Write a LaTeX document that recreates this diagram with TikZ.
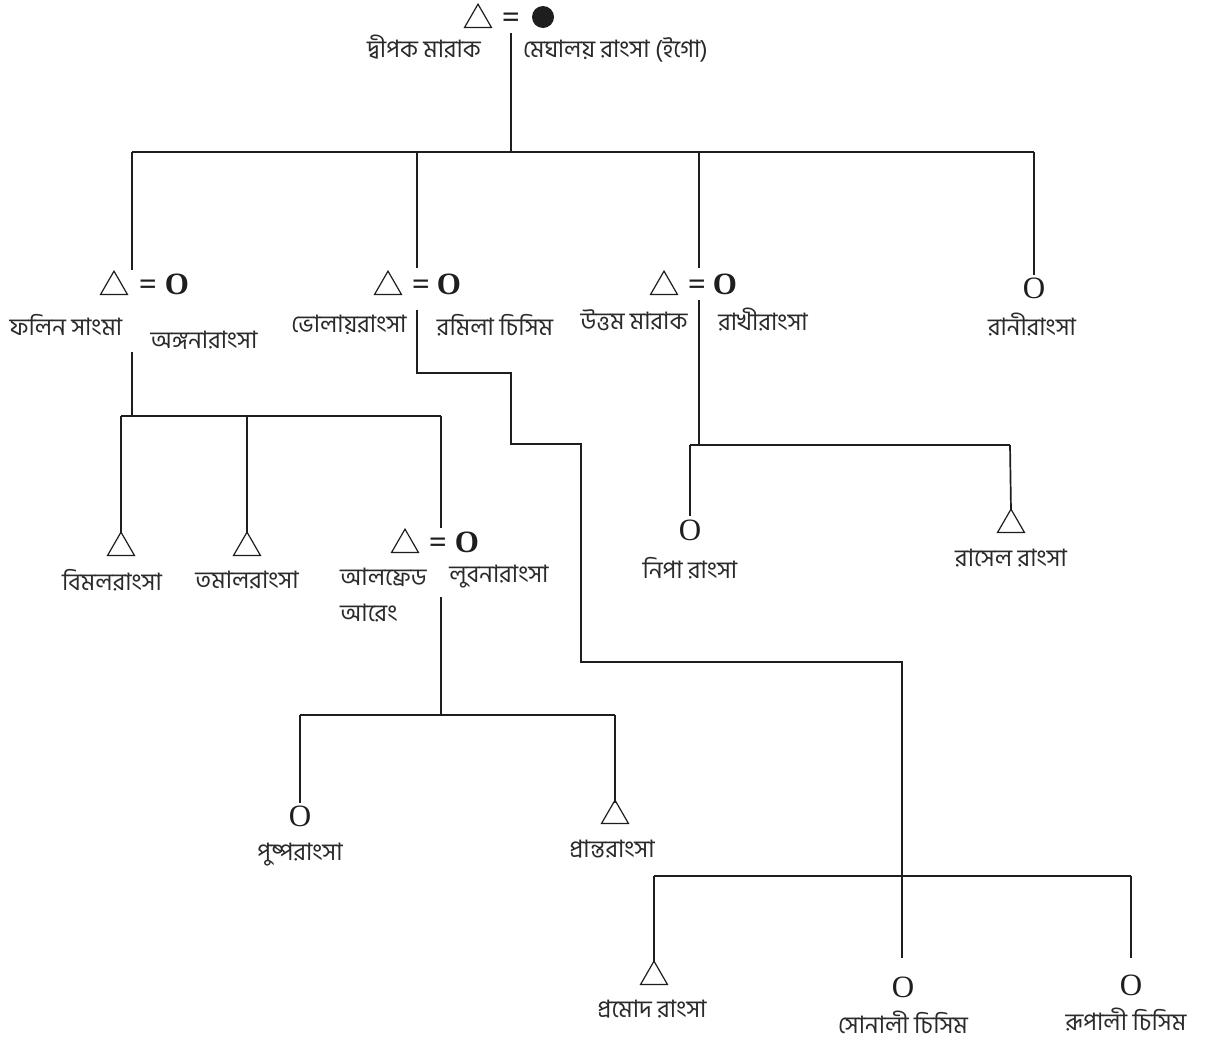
\documentclass[tikz,border=0pt]{standalone}
\usepackage{fontspec}
\newfontfamily\bn[Script=Bengali]{Hind Siliguri}
\newfontfamily\sym{Liberation Serif}
\usetikzlibrary{shapes.geometric}
\definecolor{ink}{HTML}{1E1E1E}
\definecolor{txt}{HTML}{2A2A2A}
\begin{document}
\begin{tikzpicture}[x=1pt,y=-1pt,
  ln/.style={line width=1.7pt, draw=ink},
  lbl/.style={font=\bn\fontsize{24}{26}\selectfont, inner sep=0pt, text=txt},
  male/.style={regular polygon, regular polygon sides=3, draw=ink, line width=1.2pt, minimum size=31pt, inner sep=0pt, anchor=south},
  fem/.style={font=\sym\fontsize{31}{31}\selectfont, inner sep=0pt, anchor=base, text=ink},
  femb/.style={font=\sym\bfseries\fontsize{31}{31}\selectfont, inner sep=0pt, anchor=base, text=ink},
  eq/.style={font=\sym\bfseries\fontsize{31}{31}\selectfont, inner sep=0pt, anchor=base, text=ink},
  ego/.style={circle, fill=ink, minimum size=22pt, inner sep=0pt},
]
\useasboundingbox (0,0) rectangle (1220,1047);
\fill[white] (0,0) rectangle (1220,1047);

% ---------- generation 1 ----------
\node[male] (gM) at (478,28) {};
\node[eq] (gE) at (511,27) {=};
\node[ego] (gF) at (543,17) {};
\node[lbl, anchor=west] (gML) at (367,47) {দ্বীপক মারাক};
\node[lbl, anchor=west] (gFL) at (523,50) {মেঘালয় রাংসা (ইগো)};

\coordinate (g0) at (511,33);
\coordinate (h0) at (511,152);
\coordinate (h0L) at (132,152);
\coordinate (h0R) at (1034,152);
\draw[ln] (g0) -- (h0);
\draw[ln] (h0L) -- (h0R);

% ---------- generation 2 ----------
% couple A
\node[male] (aM) at (114,295) {};
\node[eq] (aE) at (148,294) {=};
\node[femb] (aF) at (177,294) {O};
\node[lbl] (aML) at (66,325) {ফলিন সাংমা};
\node[lbl] (aFL) at (204,340) {অঙ্গনারাংসা};
\coordinate (aTop) at (132,270);
\coordinate (aBot) at (132,352);
% couple B
\node[male] (bM) at (388,295) {};
\node[eq] (bE) at (421,294) {=};
\node[femb] (bF) at (449,294) {O};
\node[lbl] (bML) at (349,325) {ভোলায়রাংসা};
\node[lbl] (bFL) at (495,325) {রমিলা চিসিম};
\coordinate (bTop) at (417,268);
\coordinate (bBot) at (417,310);
% couple C
\node[male] (cM) at (664,295) {};
\node[eq] (cE) at (697,294) {=};
\node[femb] (cF) at (725,294) {O};
\node[lbl] (cML) at (634,320) {উত্তম মারাক};
\node[lbl] (cFL) at (763,320) {রাখীরাংসা};
\coordinate (cTop) at (699,268);
\coordinate (cBot) at (699,300);
% Rani
\node[fem] (rF) at (1034,298) {O};
\node[lbl] (rFL) at (1032,325) {রানীরাংসা};
\coordinate (rTop) at (1034,275);

\draw[ln] (h0L) -- (aTop);
\draw[ln] (bTop |- h0L) -- (bTop);
\draw[ln] (cTop |- h0L) -- (cTop);
\draw[ln] (h0R) -- (rTop);

% ---------- children of A ----------
\coordinate (a1) at (132,416);
\coordinate (a1L) at (121,416);
\coordinate (a1R) at (441,416);
\draw[ln] (aBot) -- (a1);
\draw[ln] (a1L) -- (a1R);

\node[male] (bimM) at (121,556) {};
\node[lbl] (bimL) at (112,580) {বিমলরাংসা};
\coordinate (bimT) at (121,534);
\node[male] (tamM) at (247,556) {};
\node[lbl] (tamL) at (247,580) {তমালরাংসা};
\coordinate (tamT) at (247,534);
\draw[ln] (a1L) -- (bimT);
\draw[ln] (tamT |- a1L) -- (tamT);

% couple D
\node[male] (dM) at (405,553) {};
\node[eq] (dE) at (438,552) {=};
\node[femb] (dF) at (467,552) {O};
\node[lbl, anchor=west] (dML) at (340,577) {আলফ্রেড};
\node[lbl, anchor=west] (dML2) at (340,613) {আরেং};
\node[lbl] (dFL) at (499,577) {লুবনারাংসা};
\coordinate (dTop) at (441,528);
\coordinate (dBot) at (441,597);
\draw[ln] (a1R) -- (dTop);

\coordinate (d1) at (441,715);
\coordinate (d1L) at (300,715);
\coordinate (d1R) at (615,715);
\draw[ln] (dBot) -- (d1);
\draw[ln] (d1L) -- (d1R);
\node[fem] (pusF) at (300,826) {O};
\node[lbl] (pusL) at (300,855) {পুষ্পরাংসা};
\coordinate (pusT) at (300,803);
\node[male] (praM) at (615,824) {};
\node[lbl] (praL) at (612,849) {প্রান্তরাংসা};
\coordinate (praT) at (615,803);
\draw[ln] (d1L) -- (pusT);
\draw[ln] (d1R) -- (praT);

% ---------- children of C ----------
\coordinate (c1) at (699,445);
\coordinate (c1L) at (690,445);
\coordinate (c1R) at (1010,445);
\draw[ln] (cBot) -- (c1);
\draw[ln] (c1L) -- (c1R);
\node[fem] (nipF) at (690,540) {O};
\node[lbl] (nipL) at (690,568) {নিপা রাংসা};
\coordinate (nipT) at (690,516);
\node[male] (rasM) at (1011,533) {};
\node[lbl] (rasL) at (1011,558) {রাসেল রাংসা};
\coordinate (rasT) at (1011,511);
\draw[ln] (c1L) -- (nipT);
\draw[ln] (c1R) -- (rasT);

% ---------- matrilineal path from B ----------
\coordinate (p1) at (417,373);
\coordinate (p2) at (511,373);
\coordinate (p3) at (511,444);
\coordinate (p4) at (581,444);
\coordinate (p5) at (581,662);
\coordinate (p6) at (902,662);
\coordinate (sonT) at (902,958);
\draw[ln] (bBot) -- (p1) -- (p2) -- (p3) -- (p4) -- (p5) -- (p6) -- (sonT);

% ---------- bottom generation ----------
\coordinate (e1L) at (654,876);
\coordinate (e1R) at (1131,876);
\draw[ln] (e1L) -- (e1R);
\node[male] (proM) at (654,985) {};
\node[lbl] (proL) at (652,1009) {প্রমোদ রাংসা};
\coordinate (proT) at (654,962);
\node[fem] (sonF) at (903,997) {O};
\node[lbl] (sonL) at (903,1022) {সোনালী চিসিম};
\node[fem] (rupF) at (1131,995) {O};
\node[lbl] (rupL) at (1126,1019) {রূপালী চিসিম};
\coordinate (rupT) at (1131,958);
\draw[ln] (e1L) -- (proT);
\draw[ln] (e1R) -- (rupT);
\end{tikzpicture}
\end{document}
